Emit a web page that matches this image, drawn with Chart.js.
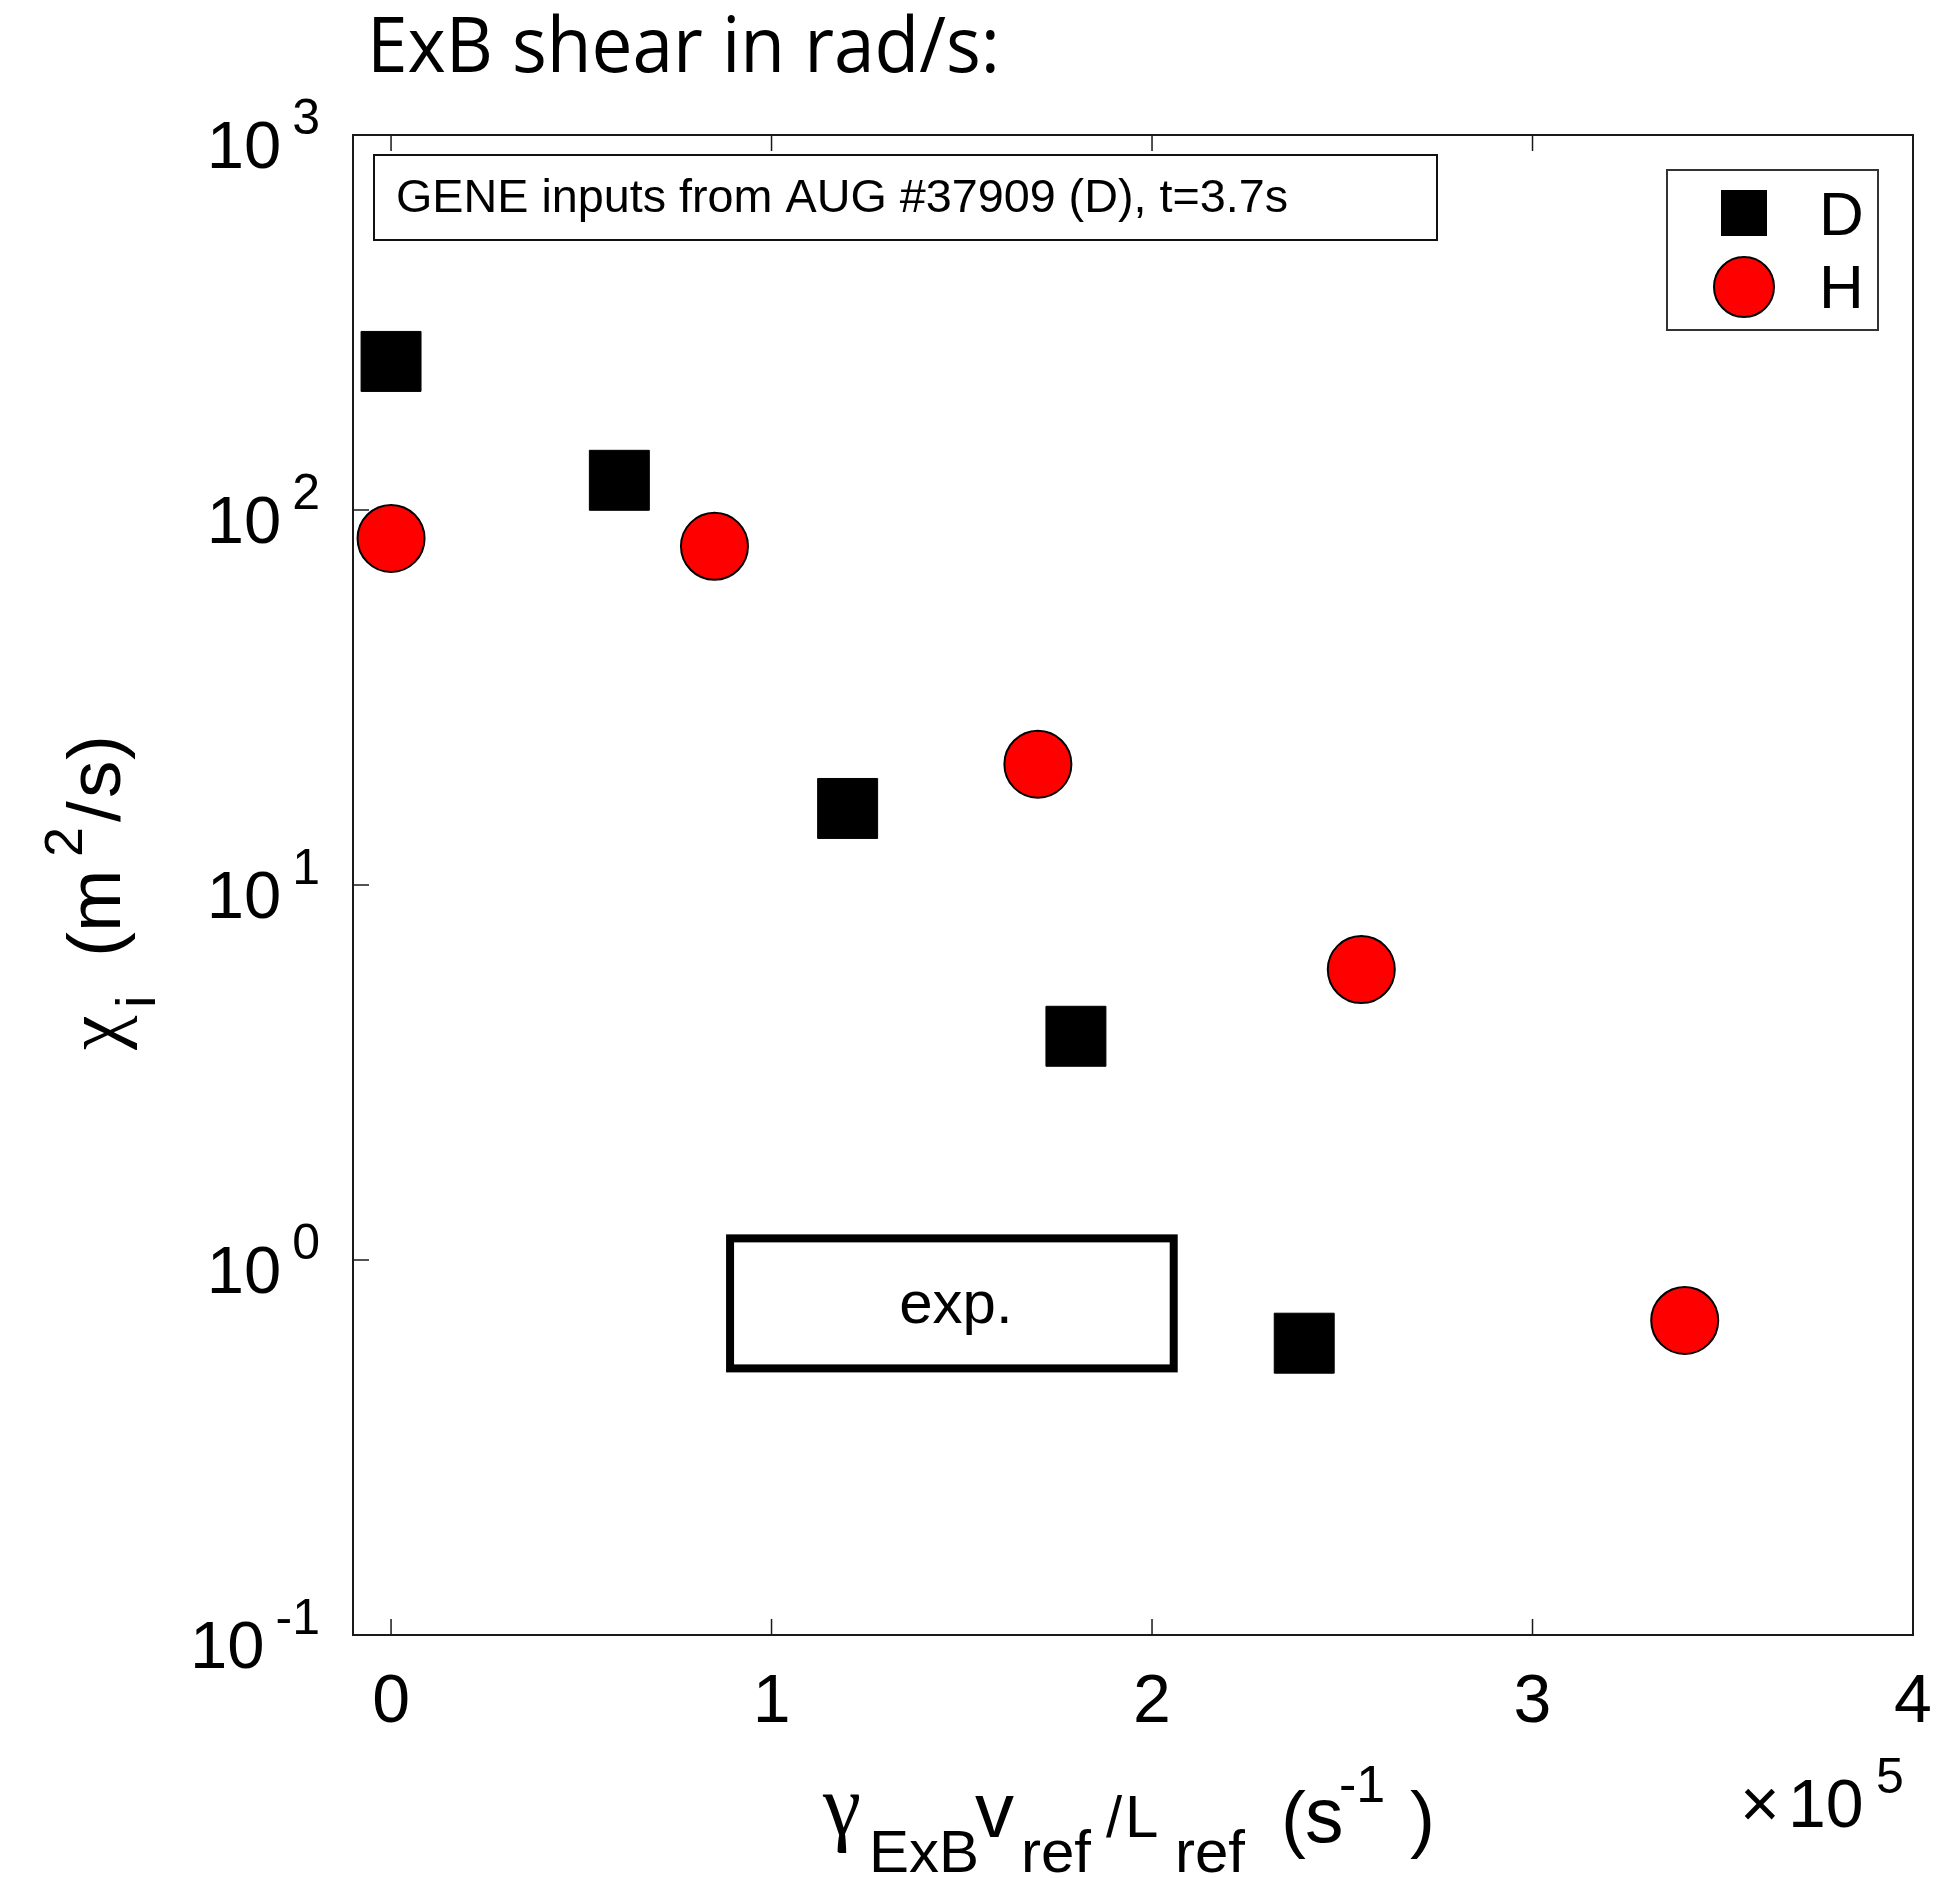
<!DOCTYPE html>
<html><head><meta charset="utf-8">
<script src="https://cdn.jsdelivr.net/npm/chart.js@4.4.1/dist/chart.umd.min.js"></script>
<style>html,body{margin:0;padding:0;background:#fff;overflow:hidden}canvas{display:block}</style>
</head><body>
<canvas id="c" width="1942" height="1878"></canvas>
<script>
// ---------- data ----------
const seriesNames = ['D', 'H'];
const xD = [0, 0.6, 1.2, 1.8, 2.4];          // gamma_ExB v_ref/L_ref  (x 10^5 s^-1)
const yD = [249, 120, 16, 3.95, 0.60];       // chi_i (m^2/s)
const xH = [0, 0.85, 1.7, 2.55, 3.4];
const yH = [84, 80, 21, 5.95, 0.69];
const xTicks = [0, 1, 2, 3, 4];
const xTickLabels = ['0', '1', '2', '3', '4'];
const yTicks = [0.1, 1, 10, 100, 1000];
const yTickExp = ['-1', '0', '1', '2', '3'];
const xRange = [-0.1, 4];
const yRange = [0.1, 1000];
const expBoxX = [0.891, 2.057];
const expBoxY = [0.514, 1.142];
const expLabel = 'exp.';
const titleText = 'ExB shear in rad/s:';
const noteText = 'GENE inputs from AUG #37909 (D), t=3.7s';
const xExponent = '5';

// ---------- styling / layout ----------
const SANS = '"Liberation Sans", Arial, Helvetica, sans-serif';
const SERIF = '"Liberation Serif", "DejaVu Serif", serif';
const xTitlePieces = [
  {t: 'γ',   x: 823,  y: 1834, s: 86, f: SERIF},
  {t: 'ExB', x: 869,  y: 1872, s: 60},
  {t: 'v',   x: 975,  y: 1837, s: 78},
  {t: 'ref', x: 1021, y: 1872, s: 60},
  {t: '/',   x: 1106, y: 1837, s: 58},
  {t: 'L',   x: 1125, y: 1837, s: 60},
  {t: 'ref', x: 1175, y: 1872, s: 60},
  {t: '(',   x: 1281, y: 1844, s: 75},
  {t: 's',   x: 1305, y: 1842, s: 77},
  {t: '-1',  x: 1339, y: 1802, s: 52},
  {t: ')',   x: 1410, y: 1844, s: 75}
];
const yTitleOrigin = {x: 120, y: 1050};
const yTitlePieces = [
  {t: 'χ', x: 0,   y: 0,   s: 78, f: SERIF},
  {t: 'i', x: 42,  y: 35,  s: 56},
  {t: '(', x: 93,  y: 0,   s: 75},
  {t: 'm', x: 118, y: 0,   s: 75},
  {t: '2', x: 193, y: -38, s: 54},
  {t: '/', x: 228, y: 0,   s: 75},
  {t: 's', x: 252, y: 0,   s: 75},
  {t: ')', x: 290, y: 0,   s: 75}
];

function txt(ctx, s, x, y, size, o) {
  o = o || {};
  ctx.save();
  ctx.font = (o.style || '') + ' ' + size + 'px ' + (o.family || SANS);
  ctx.fillStyle = o.color || '#000';
  ctx.textBaseline = 'alphabetic';
  ctx.textAlign = o.align || 'left';
  if (o.width) {
    const w = ctx.measureText(s).width;
    ctx.translate(x, y);
    ctx.scale(o.width / w, 1);
    ctx.fillText(s, 0, 0);
  } else {
    ctx.fillText(s, x, y);
  }
  ctx.restore();
}

const deco = {
  id: 'deco',
  beforeDatasetsDraw(chart) {
    const ctx = chart.ctx, a = chart.chartArea;
    const xs = chart.scales.x, ys = chart.scales.y;
    ctx.save();
    // title
    txt(ctx, titleText, 367, 72, 76, {family: '"Open Sans", Lato, sans-serif', width: 633});
    // frame
    ctx.strokeStyle = '#1a1a1a';
    ctx.lineWidth = 2;
    ctx.strokeRect(a.left, a.top, a.right - a.left, a.bottom - a.top);
    // ticks (inward)
    ctx.lineWidth = 1.5;
    ctx.beginPath();
    xs.ticks.forEach(t => {
      const px = xs.getPixelForValue(t.value);
      ctx.moveTo(px, a.bottom); ctx.lineTo(px, a.bottom - 16);
      ctx.moveTo(px, a.top); ctx.lineTo(px, a.top + 16);
    });
    ys.ticks.forEach(t => {
      const py = ys.getPixelForValue(t.value);
      ctx.moveTo(a.left, py); ctx.lineTo(a.left + 16, py);
    });
    ctx.stroke();
    // x tick labels
    xs.ticks.forEach((t, i) => {
      txt(ctx, xTickLabels[i], xs.getPixelForValue(t.value), a.bottom + 87, 68, {align: 'center'});
    });
    // y tick labels 10^n
    ys.ticks.forEach((t, i) => {
      const py = ys.getPixelForValue(t.value);
      ctx.font = '50px ' + SANS;
      const wSup = ctx.measureText(yTickExp[i]).width;
      ctx.font = '67px ' + SANS;
      const wBase = ctx.measureText('10').width;
      const right = 320;
      const supX = right - wSup;
      const baseX = supX - 11 - wBase;
      txt(ctx, '10', baseX, py + 33, 67);
      txt(ctx, yTickExp[i], supX, py - 1, 50);
    });
    // x multiplier
    txt(ctx, '×', 1740, 1827, 68);
    txt(ctx, '10', 1788, 1827, 68);
    txt(ctx, xExponent, 1876, 1793, 50);
    // x title
    xTitlePieces.forEach(p => txt(ctx, p.t, p.x, p.y, p.s, {family: p.f}));
    // y title (rotated)
    ctx.save();
    ctx.translate(yTitleOrigin.x, yTitleOrigin.y);
    ctx.rotate(-Math.PI / 2);
    yTitlePieces.forEach(p => txt(ctx, p.t, p.x, p.y, p.s, {family: p.f}));
    ctx.restore();
    // note box
    ctx.strokeStyle = '#111';
    ctx.lineWidth = 2;
    ctx.strokeRect(374, 155, 1063, 85);
    txt(ctx, noteText, 396, 212, 47, {width: 892});
    // exp box (data coordinates)
    const ex0 = xs.getPixelForValue(expBoxX[0]), ex1 = xs.getPixelForValue(expBoxX[1]);
    const ey0 = ys.getPixelForValue(expBoxY[1]), ey1 = ys.getPixelForValue(expBoxY[0]);
    ctx.strokeStyle = '#000';
    ctx.lineWidth = 8;
    ctx.strokeRect(ex0, ey0, ex1 - ex0, ey1 - ey0);
    txt(ctx, expLabel, (ex0 + ex1) / 2 + 4, (ey0 + ey1) / 2 + 20, 60, {align: 'center'});
    // legend
    ctx.strokeStyle = '#333';
    ctx.lineWidth = 2;
    ctx.strokeRect(1667, 170, 211, 160);
    ctx.fillStyle = '#000';
    ctx.fillRect(1744 - 23, 213 - 23, 46, 46);
    ctx.beginPath();
    ctx.arc(1744, 287, 30, 0, Math.PI * 2);
    ctx.fillStyle = '#ff0000';
    ctx.fill();
    ctx.lineWidth = 2;
    ctx.strokeStyle = '#000';
    ctx.stroke();
    txt(ctx, seriesNames[0], 1819, 235, 62);
    txt(ctx, seriesNames[1], 1819, 308, 62);
    ctx.restore();
  }
};

function build() {
  new Chart(document.getElementById('c').getContext('2d'), {
    type: 'scatter',
    data: {
      datasets: [
        {label: seriesNames[0], data: xD.map((x, i) => ({x: x, y: yD[i]})),
         pointStyle: 'rect', pointRadius: 42.4, pointHoverRadius: 42.4,
         backgroundColor: '#000', borderColor: '#000', borderWidth: 1, clip: false},
        {label: seriesNames[1], data: xH.map((x, i) => ({x: x, y: yH[i]})),
         pointStyle: 'circle', pointRadius: 33.5, pointHoverRadius: 33.5,
         backgroundColor: '#ff0000', borderColor: '#000', borderWidth: 2, clip: false}
      ]
    },
    options: {
      responsive: false, animation: false, devicePixelRatio: 1,
      events: [],
      layout: {autoPadding: false, padding: {top: 135, right: 29, left: 0, bottom: 0}},
      plugins: {legend: {display: false}, tooltip: {enabled: false}, title: {display: false}},
      scales: {
        x: {
          type: 'linear', min: xRange[0], max: xRange[1],
          grid: {display: false, drawTicks: false}, border: {display: false},
          ticks: {display: false},
          afterBuildTicks: s => { s.ticks = xTicks.map(v => ({value: v})); },
          afterFit: s => { s.height = 243; }
        },
        y: {
          type: 'logarithmic', min: yRange[0], max: yRange[1],
          grid: {display: false, drawTicks: false}, border: {display: false},
          ticks: {display: false},
          afterBuildTicks: s => { s.ticks = yTicks.map(v => ({value: v})); },
          afterFit: s => { s.width = 353; }
        }
      }
    },
    plugins: [deco]
  });
}
const fontLoads = ['76px "Open Sans"', '60px "Liberation Sans"', '70px "Liberation Serif"'].map(f => document.fonts.load(f).catch(() => null));
Promise.all(fontLoads).then(build, build);
</script>
</body></html>
